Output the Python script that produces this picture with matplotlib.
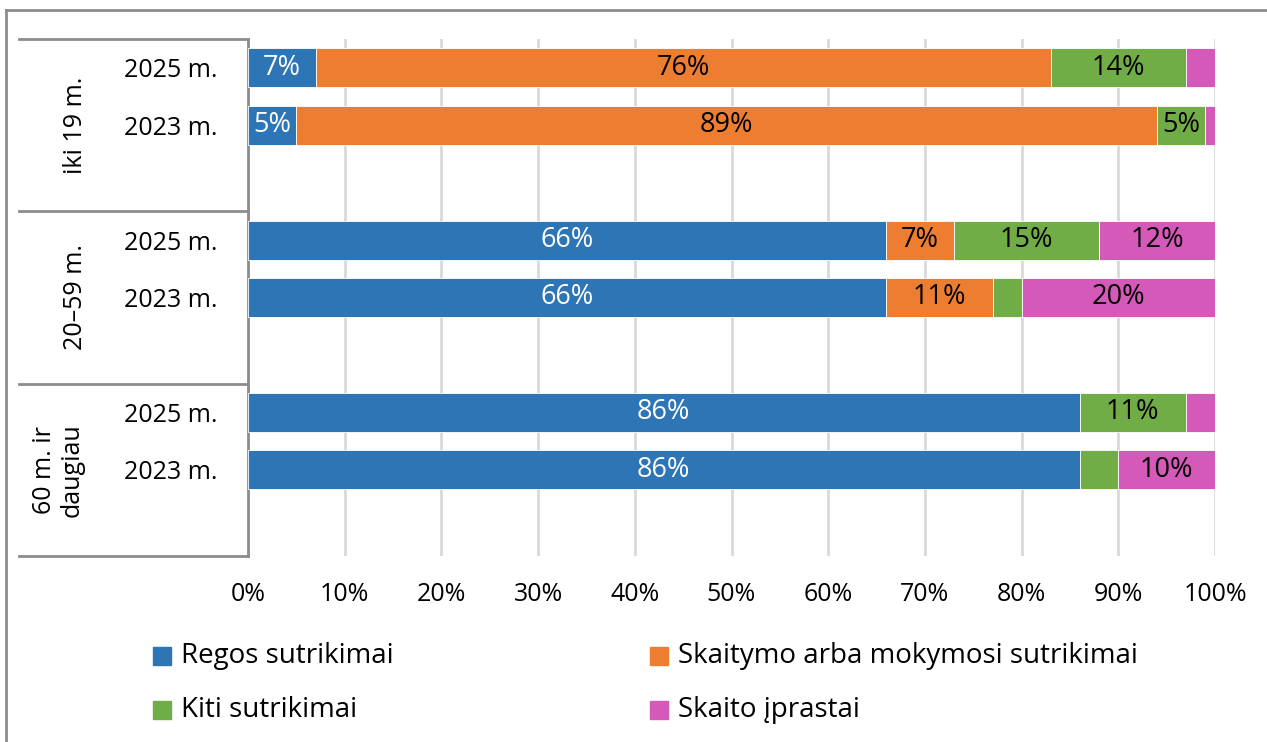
import matplotlib.pyplot as plt
from matplotlib.patches import Rectangle
from matplotlib.lines import Line2D
from matplotlib.transforms import blended_transform_factory

plt.rcParams['font.family'] = ['Open Sans', 'DejaVu Sans']

# data (percent), rows top to bottom
groups = ["iki 19 m.", "20–59 m.", "60 m. ir\ndaugiau"]
years = ["2025 m.", "2023 m."]
series = ["Regos sutrikimai", "Skaitymo arba mokymosi sutrikimai",
          "Kiti sutrikimai", "Skaito įprastai"]
regos = [7, 5, 66, 66, 86, 86]
skaitymo = [76, 89, 7, 11, 0, 0]
kiti = [14, 5, 15, 3, 11, 4]
iprastai = [3, 1, 12, 20, 3, 10]

colors = ["#2E75B6", "#ED7D31", "#70AD47", "#D459B8"]
label_colors = ["white", "black", "black", "black"]

fig = plt.figure(figsize=(12.67, 7.42), dpi=100)
W, H = 1267, 742
ax = fig.add_axes([248 / W, (H - 556) / H, (1215 - 248) / W, (556 - 39) / H])

# each group gets 3 slots, the third one empty
ypos = [0, 1, 3, 4, 6, 7]
left = [0] * 6
for vals, col, lc in zip([regos, skaitymo, kiti, iprastai], colors, label_colors):
    bars = ax.barh(ypos, vals, left=left, height=0.68, color=col,
                   edgecolor="white", linewidth=0.6, zorder=3)
    labels = [f"{v}%" if v >= 5 else "" for v in vals]
    ax.bar_label(bars, labels=labels, label_type="center", color=lc, fontsize=19.5)
    left = [a + b for a, b in zip(left, vals)]

ax.set_xlim(0, 100)
ax.set_ylim(8.5, -0.5)
ax.set_xticks(range(0, 101, 10))
ax.set_xticklabels([f"{t}%" for t in range(0, 101, 10)], fontsize=18)
ax.set_yticks(ypos)
ax.set_yticklabels(years * 3, fontsize=18)
ax.tick_params(axis="y", length=0, pad=22)
ax.tick_params(axis="x", length=0, pad=19)
ax.xaxis.grid(True, color="#D9D9D9", linewidth=2, zorder=0)
ax.set_axisbelow(True)
for s in ["top", "right", "bottom"]:
    ax.spines[s].set_visible(False)
ax.spines["left"].set_color("#8C8C8C")
ax.spines["left"].set_linewidth(2)

# grouped category axis
tr = blended_transform_factory(ax.transAxes, ax.transData)
for yb in [-0.5, 2.5, 5.5, 8.5]:
    ax.plot([-0.237, 0], [yb, yb], transform=tr, color="#8C8C8C",
            linewidth=2, clip_on=False)
group_x = [-0.178, -0.178, -0.196]
for i, g in enumerate(groups):
    ax.text(group_x[i], i * 3 + 1.0, g, transform=tr, rotation=90, fontsize=18,
            ha="center", va="center", linespacing=1.15)

# legend
leg_pos = [(162, 656), (659, 656), (162, 710), (659, 710)]
for (lx, ly), name, col in zip(leg_pos, series, colors):
    fig.patches.append(Rectangle(((lx - 9) / W, (H - ly - 9) / H), 18 / W, 18 / H,
                                 transform=fig.transFigure, color=col))
    fig.text((lx + 19) / W, (H - ly) / H, name, fontsize=20, va="center", ha="left")

# outer frame: only top and left edges are visible in the crop
top_y = (H - 10) / H
fig.add_artist(Line2D([6 / W, 1.0], [top_y, top_y], color="#8C8C8C", linewidth=2))
fig.add_artist(Line2D([6 / W, 6 / W], [0, top_y], color="#8C8C8C", linewidth=2))

fig.savefig("out.png", dpi=100)
